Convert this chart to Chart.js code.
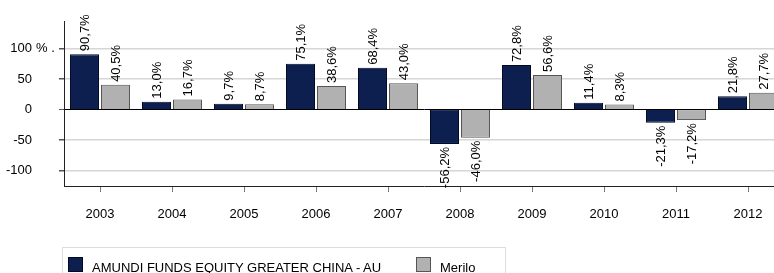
<!DOCTYPE html>
<html>
<head>
<meta charset="utf-8">
<script src="https://cdn.jsdelivr.net/npm/chart.js@4/dist/chart.umd.min.js"></script>
<style>
html,body{margin:0;padding:0;background:#fff;overflow:hidden;width:774px;height:273px;}
#wrap{position:relative;width:774px;height:273px;overflow:hidden;}
canvas{position:absolute;left:0;top:0;}
#legend{position:absolute;left:62px;top:247px;width:444px;height:40px;border:1.5px solid #dcdcdc;box-sizing:border-box;font-family:'Liberation Sans',Arial,sans-serif;font-size:13px;color:#000;}
.sw{position:absolute;top:9px;width:15px;height:15px;box-sizing:border-box;}
.lt{position:absolute;top:12px;white-space:nowrap;line-height:15px;}
</style>
</head>
<body>
<div id="wrap">
<canvas id="c" width="800" height="273"></canvas>
<div id="legend"></div>
</div>
<script>
const categories = ['2003','2004','2005','2006','2007','2008','2009','2010','2011','2012'];
const fundValues = [90.7, 13.0, 9.7, 75.1, 68.4, -56.2, 72.8, 11.4, -21.3, 21.8];
const benchValues = [40.5, 16.7, 8.7, 38.6, 43.0, -46.0, 56.6, 8.3, -17.2, 27.7];
const seriesNames = ['AMUNDI FUNDS EQUITY GREATER CHINA - AU', 'Merilo'];
const yTickValues = [-100, -50, 0, 50, 100];

const NAVY = '#0c1f4e', GRAY = '#b1b1b1';

Chart.defaults.font.family = "'Liberation Sans', Arial, sans-serif";
Chart.defaults.font.size = 13;
Chart.defaults.color = '#000';

function fmt(v){ return v.toFixed(1).replace('.', ',') + '%'; }

const labelPlugin = {
  id: 'barLabels',
  afterDatasetsDraw(chart){
    const ctx = chart.ctx;
    ctx.save();
    ctx.font = "13px 'Liberation Sans', Arial, sans-serif";
    ctx.fillStyle = '#000';
    ctx.textBaseline = 'middle';
    chart.data.datasets.forEach((ds, di) => {
      const meta = chart.getDatasetMeta(di);
      meta.data.forEach((el, i) => {
        const v = ds.data[i];
        ctx.save();
        if (v >= 0) {
          ctx.translate(el.x + 1, el.y - 3);
          ctx.rotate(-Math.PI/2);
          ctx.textAlign = 'left';
        } else {
          ctx.translate(el.x + 1, el.y + 3);
          ctx.rotate(-Math.PI/2);
          ctx.textAlign = 'right';
        }
        ctx.fillText(fmt(v), 0, 0);
        ctx.restore();
      });
    });
    const ys = chart.scales.y;
    ctx.textAlign = 'left';
    ctx.fillText('% .', 36, ys.getPixelForValue(100));
    ctx.restore();
  }
};

new Chart(document.getElementById('c'), {
  type: 'bar',
  data: {
    labels: categories,
    datasets: [
      { label: seriesNames[0], data: fundValues, backgroundColor: NAVY, borderColor: '#000a25', borderWidth: 1, barPercentage: 0.935, categoryPercentage: 0.861 },
      { label: seriesNames[1], data: benchValues, backgroundColor: GRAY, borderColor: '#555', borderWidth: 1, barPercentage: 0.935, categoryPercentage: 0.861 }
    ]
  },
  options: {
    responsive: false,
    animation: false,
    devicePixelRatio: 1,
    layout: { padding: { top: 21, right: 16, bottom: 0, left: 0 } },
    plugins: { legend: { display: false }, tooltip: { enabled: false } },
    scales: {
      x: {
        afterFit(s){ s.height = 87; },
        grid: { display: true, drawOnChartArea: false, drawTicks: true, tickLength: 6, tickColor: '#777', offset: false },
        border: { display: true, color: '#222', width: 1 },
        ticks: { padding: 15, maxRotation: 0, autoSkip: false, color: '#000', font: { size: 13 } }
      },
      y: {
        min: -125, max: 145,
        afterFit(s){ s.width = 64; s.paddingTop = 0; s.paddingBottom = 0; },
        afterBuildTicks(s){ s.ticks = yTickValues.map(v => ({ value: v })); },
        grid: {
          color: ctx => (ctx.tick && ctx.tick.value === 0) ? '#000' : '#d6d6d6',
          lineWidth: ctx => (ctx.tick && ctx.tick.value === 0) ? 1 : 1.5,
          tickColor: '#555', tickLength: 5, drawTicks: true
        },
        border: { display: true, color: '#222', width: 1 },
        ticks: { padding: 27, color: '#000', font: { size: 13 }, callback: v => String(v) }
      }
    }
  },
  plugins: [labelPlugin]
});

const lg = document.getElementById('legend');
lg.innerHTML =
  '<div class="sw" style="left:5px;background:' + NAVY + ';border:1px solid #000a25"></div>' +
  '<div class="lt" style="left:29px">' + seriesNames[0] + '</div>' +
  '<div class="sw" style="left:353px;background:' + GRAY + ';border:1px solid #555"></div>' +
  '<div class="lt" style="left:377px">' + seriesNames[1] + '</div>';
</script>
</body>
</html>
